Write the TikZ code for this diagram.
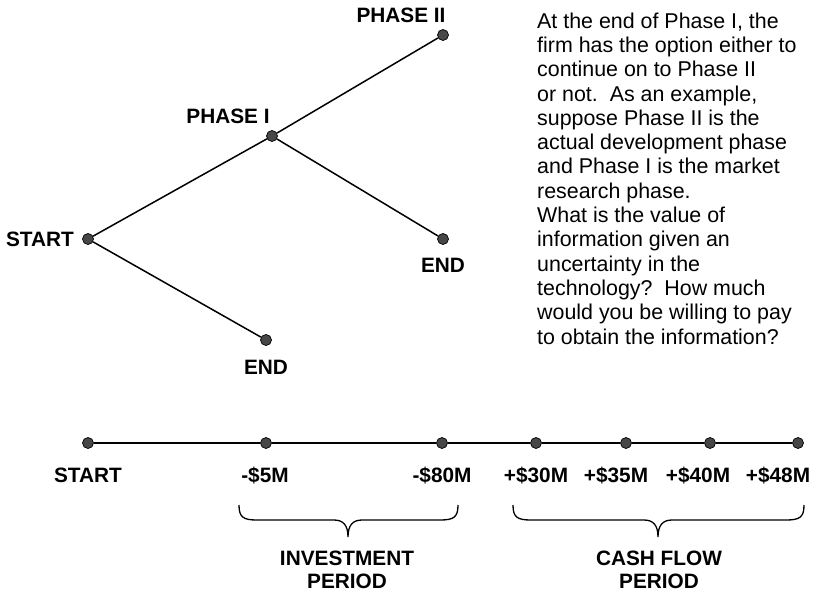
\documentclass[tikz,border=0pt]{standalone}
\usepackage{fontspec}
\setmainfont{Liberation Sans}
% curly brace opening upward: x-left, x-right, x-middle, y-top, y-tip
\newcommand{\curlybrace}[5]{%
  \draw[bracestroke] (#1,#4) .. controls (#1,#4+12) and (#1+4,#4+15) .. (#1+18,#4+15)
    -- (#3-14,#4+15) .. controls (#3-5,#4+15) and (#3,#4+20) .. (#3,#5)
    .. controls (#3,#4+20) and (#3+5,#4+15) .. (#3+14,#4+15)
    -- (#2-18,#4+15) .. controls (#2-4,#4+15) and (#2,#4+12) .. (#2,#4);}
\begin{document}
\begin{tikzpicture}[x=1pt,y=-1pt,
  dot/.style={circle,draw=black,fill=black!72,line width=0.7pt,minimum size=11pt,inner sep=0pt},
  lbl/.style={font=\fontsize{20.8}{23}\selectfont\bfseries,inner sep=0pt},
  branch/.style={line width=1.5pt},
  axis/.style={line width=1.8pt},
  bracestroke/.style={line width=1.3pt},
  note/.style={font=\fontsize{21.4}{24.3}\selectfont,align=left,inner sep=0pt}]
\useasboundingbox[fill=white] (0,0) rectangle (817,595);

% decision tree
\node[dot] (s)  at (88,239)  {};
\node[dot] (p1) at (272,136) {};
\node[dot] (p2) at (443,35)  {};
\node[dot] (e1) at (443,239) {};
\node[dot] (e2) at (266,340) {};
\draw[branch] (s) -- (p1);
\draw[branch] (p1) -- (p2);
\draw[branch] (p1) -- (e1);
\draw[branch] (s) -- (e2);

\node[lbl,anchor=base east] (ls)  at (74,246.5)  {START};
\node[lbl,anchor=base]      (lp1) at (228,123.5) {PHASE I};
\node[lbl,anchor=base]      (lp2) at (401,22.5)  {PHASE II};
\node[lbl,anchor=base]      (le1) at (443,272.5) {END};
\node[lbl,anchor=base]      (le2) at (266,374.5) {END};

% explanatory note
\node[note,anchor=north west] (txt) at (537,12.4) {%
At the end of Phase I, the\\
firm has the option either to\\
continue on to Phase II\\
or not.\ \ As an example,\\
suppose Phase II is the\\
actual development phase\\
and Phase I is the market\\
research phase.\\
What is the value of\\
information given an\\
uncertainty in the\\
technology?\ \ How much\\
would you be willing to pay\\
to obtain the information?};

% time line
\node[dot] (t0) at (88,443)  {};
\node[dot] (t1) at (266,443) {};
\node[dot] (t2) at (442,443) {};
\node[dot] (t3) at (536,443) {};
\node[dot] (t4) at (626,443) {};
\node[dot] (t5) at (710,443) {};
\node[dot] (t6) at (798,443) {};
\draw[axis] (t0) -- (t1) -- (t2) -- (t3) -- (t4) -- (t5) -- (t6);

\node[lbl,anchor=base] (v0) at (88,482)  {START};
\node[lbl,anchor=base] (v1) at (265,482) {-\$5M};
\node[lbl,anchor=base] (v2) at (442,482) {-\$80M};
\node[lbl,anchor=base] (v3) at (536,482) {+\$30M};
\node[lbl,anchor=base] (v4) at (616,482) {+\$35M};
\node[lbl,anchor=base] (v5) at (698,482) {+\$40M};
\node[lbl,anchor=base] (v6) at (778,482) {+\$48M};

% period braces
\curlybrace{239}{458}{348}{505}{537}
\curlybrace{513}{804}{658}{505}{537}

\node[lbl,align=center,anchor=north] (inv)  at (347,551) {INVESTMENT\\PERIOD};
\node[lbl,align=center,anchor=north] (cash) at (659,551) {CASH FLOW\\PERIOD};
\end{tikzpicture}
\end{document}
